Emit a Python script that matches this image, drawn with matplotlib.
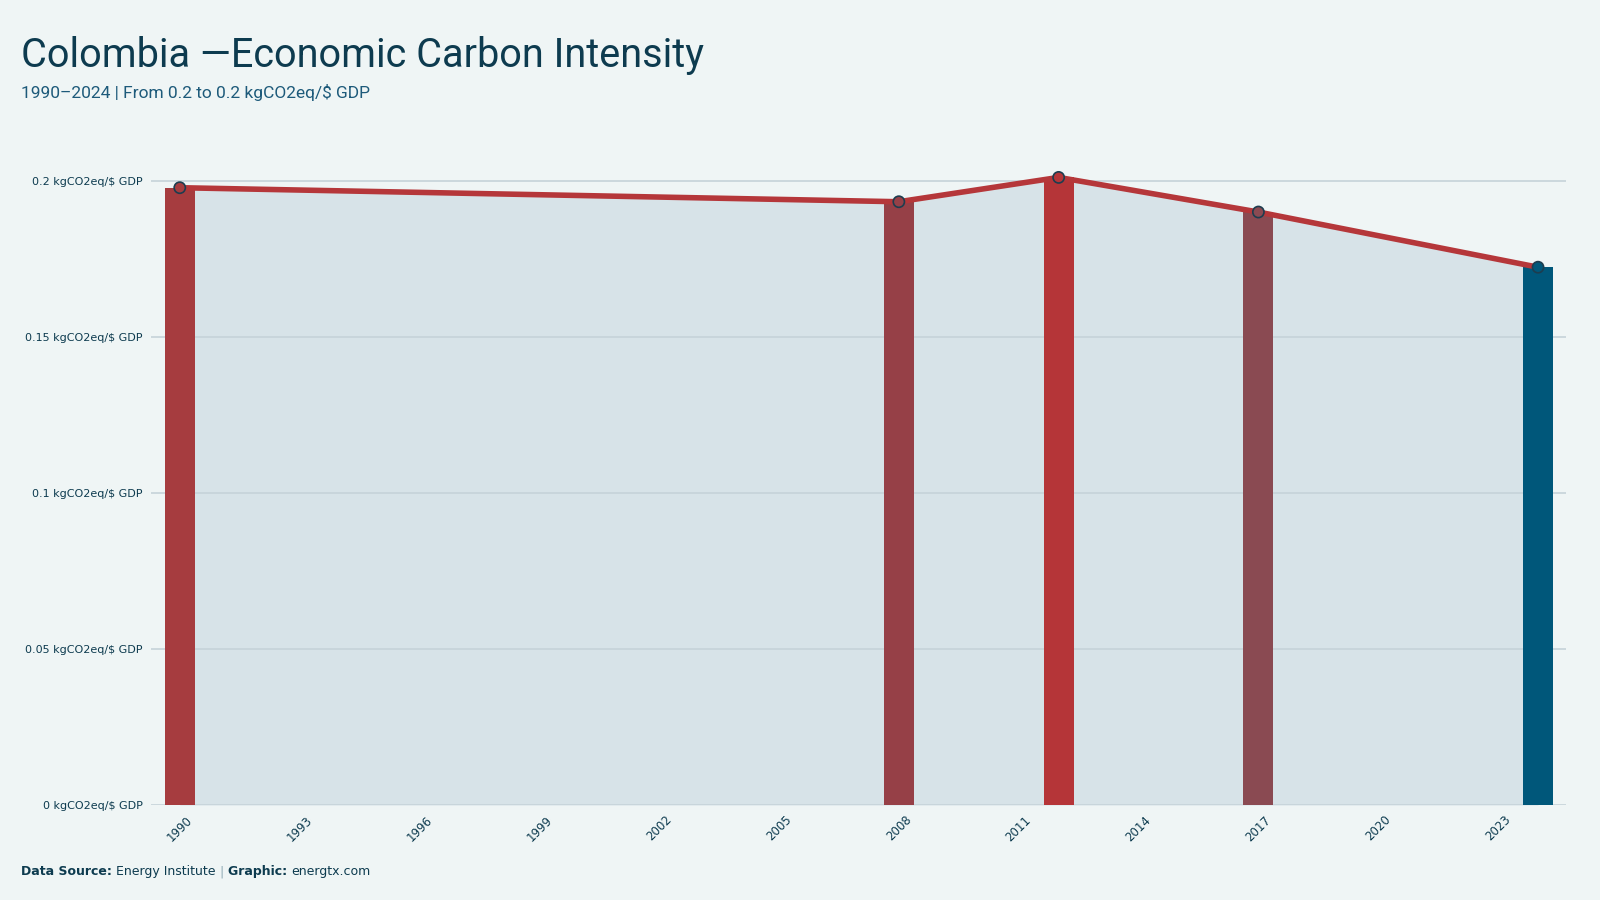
import matplotlib.pyplot as plt
import numpy as np

years = [1990, 2008, 2012, 2017, 2024]
intensity = [0.1980, 0.1935, 0.2013, 0.1902, 0.1725]
bar_colors = ["#a63c3f", "#964047", "#b53538", "#8a4a52", "#00577a"]
tick_years = list(range(1990, 2024, 3))
y_ticks = [0, 0.05, 0.1, 0.15, 0.2]
y_tick_labels = ["0 kgCO2eq/$ GDP", "0.05 kgCO2eq/$ GDP", "0.1 kgCO2eq/$ GDP",
                 "0.15 kgCO2eq/$ GDP", "0.2 kgCO2eq/$ GDP"]

bg = "#eff5f5"
dark = "#0d3b4f"
line_red = "#b5373a"

fig = plt.figure(figsize=(16, 9), dpi=100, facecolor=bg)
ax = fig.add_axes([151 / 1600, 95 / 900, (1566 - 151) / 1600, (805 - 169) / 900])
ax.set_facecolor(bg)

ax.fill_between(years, 0, intensity, color="#d7e3e8", zorder=1, lw=0)
for y in y_ticks:
    ax.axhline(y, color="#c5d3d9", lw=1.2, zorder=2)
ax.bar(years, intensity, width=0.75, color=bar_colors, zorder=3)
ax.plot(years, intensity, color=line_red, lw=4, zorder=4, solid_capstyle="round")
ax.scatter(years, intensity, s=65, c=bar_colors, edgecolors="#1d3d4f", linewidths=1.2, zorder=5)

ax.set_xlim(1989.28, 2024.7)
ax.set_ylim(0, 0.204)
ax.set_xticks(tick_years)
ax.set_xticklabels([str(y) for y in tick_years], rotation=45, fontsize=8.5, color=dark)
ax.set_yticks(y_ticks)
ax.set_yticklabels(y_tick_labels, fontsize=8, color=dark)
ax.tick_params(length=0, pad=6)
for s in ax.spines.values():
    s.set_visible(False)

fig.text(21 / 1600, 1 - 67 / 900, "Colombia \u2014Economic Carbon Intensity",
         fontsize=28.5, color=dark, family="Roboto", va="baseline")
fig.text(21 / 1600, 1 - 98 / 900, "1990\u20132024 | From 0.2 to 0.2 kgCO2eq/$ GDP",
         fontsize=12.5, color="#1d5a7a", family="Roboto", va="baseline")

t1 = fig.text(21 / 1600, 1 - 875 / 900, "Data Source: ", fontsize=9, color=dark,
              weight="bold", va="baseline")
t2 = ax.annotate("Energy Institute ", xy=(1, 0), xycoords=t1, fontsize=9, color=dark, va="bottom")
t3 = ax.annotate("| ", xy=(1, 0), xycoords=t2, fontsize=9, color="#8fa9b5", va="bottom")
t4 = ax.annotate("Graphic: ", xy=(1, 0), xycoords=t3, fontsize=9, color=dark, weight="bold", va="bottom")
ax.annotate("energtx.com", xy=(1, 0), xycoords=t4, fontsize=9, color=dark, va="bottom")

fig.savefig("out.png", dpi=100, facecolor=bg)
